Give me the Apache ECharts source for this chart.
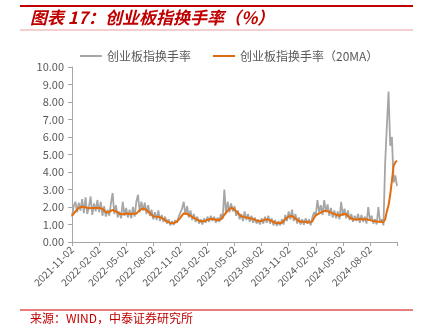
<!DOCTYPE html>
<html><head><meta charset="utf-8">
<script src="https://cdn.jsdelivr.net/npm/echarts@6/dist/echarts.min.js"></script>
<style>html,body{margin:0;padding:0;background:#fff}#c{width:424px;height:329px}</style>
</head><body><div id="c"></div>
<script>
var tickLabels = ["2021-11-02","2022-02-02","2022-05-02","2022-08-02","2022-11-02","2023-02-02","2023-05-02","2023-08-02","2023-11-02","2024-02-02","2024-05-02","2024-08-02"];
var seriesNames = ["创业板指换手率","创业板指换手率（20MA）"];
var turnover = [
1.45,2.05,2.3,1.7,2.25,1.8,2.45,1.65,2.55,1.6,2.0,2.6,1.55,2.2,1.75,2.4,
1.7,2.3,1.5,2.05,1.45,1.85,1.5,2.2,2.8,1.6,2.1,1.4,1.75,1.35,2.3,1.5,
1.95,1.4,1.85,1.35,2.0,1.45,2.3,2.7,1.7,2.3,1.8,2.25,1.6,2.1,1.5,1.85,
1.3,1.7,1.25,1.8,1.2,1.55,1.15,1.45,1.05,1.3,0.95,1.2,0.98,1.25,1.1,1.45,
1.5,1.9,2.3,1.55,2.05,1.4,1.8,1.25,1.6,1.15,1.45,1.05,1.3,1.0,1.35,1.1,
1.45,1.15,1.5,1.2,1.45,1.1,1.4,1.15,1.6,1.3,3.0,1.6,2.3,1.7,2.2,1.75,
2.05,1.5,1.8,1.3,1.6,1.2,1.75,1.25,1.6,1.15,1.5,1.1,1.4,1.05,1.3,1.0,
1.35,1.05,1.45,1.1,1.5,1.05,1.35,0.95,1.25,0.92,1.2,0.95,1.3,1.0,1.55,1.2,
1.75,1.3,1.85,1.2,1.6,1.05,1.4,1.0,1.3,0.98,1.35,1.05,1.3,0.95,1.4,1.7,
1.5,2.4,1.7,2.1,1.55,2.4,1.7,2.15,1.5,1.95,1.4,1.8,1.35,1.75,1.3,2.3,
1.5,1.9,1.35,1.8,1.25,1.6,1.15,1.5,1.2,1.6,1.1,1.55,1.15,1.45,1.05,2.0,
1.25,1.5,1.05,1.3,1.0,2.0,1.1,1.3,0.95,4.5,6.6,8.6,5.5,6.0,3.4,3.8,
3.2];
var turnoverMA20 = [
1.49,1.62,1.75,1.85,1.95,2.0,2.01,2.0,1.98,1.95,1.93,1.92,1.94,1.95,1.95,1.96,
1.95,1.94,1.9,1.8,1.7,1.65,1.72,1.8,1.83,1.8,1.75,1.7,1.62,1.55,1.58,1.62,
1.63,1.62,1.6,1.6,1.62,1.6,1.62,1.72,1.82,1.88,1.92,1.9,1.82,1.74,1.66,1.56,
1.46,1.44,1.45,1.46,1.42,1.36,1.32,1.26,1.18,1.12,1.09,1.07,1.07,1.1,1.16,1.24,
1.38,1.52,1.64,1.67,1.6,1.56,1.5,1.45,1.38,1.32,1.28,1.22,1.18,1.16,1.18,1.22,
1.26,1.3,1.33,1.33,1.3,1.28,1.24,1.22,1.3,1.42,1.55,1.68,1.8,1.9,1.96,1.93,
1.85,1.76,1.65,1.55,1.47,1.44,1.42,1.4,1.38,1.36,1.34,1.3,1.28,1.22,1.18,1.16,
1.2,1.25,1.28,1.3,1.28,1.23,1.2,1.15,1.1,1.07,1.07,1.08,1.1,1.18,1.3,1.4,
1.46,1.5,1.48,1.42,1.35,1.25,1.18,1.16,1.16,1.17,1.16,1.14,1.12,1.1,1.18,1.38,
1.52,1.58,1.64,1.7,1.74,1.77,1.79,1.76,1.72,1.68,1.64,1.6,1.56,1.52,1.5,1.55,
1.6,1.6,1.58,1.5,1.4,1.33,1.3,1.3,1.29,1.3,1.31,1.3,1.3,1.31,1.3,1.28,
1.25,1.22,1.2,1.19,1.17,1.16,1.16,1.15,1.14,1.3,1.75,2.1,2.7,3.5,4.35,4.55,
4.65];
var perQuarter = 16;
var categories = [];
for (var q = 0; q < tickLabels.length; q++) {
  for (var k = 0; k < perQuarter; k++) categories.push(k === 0 ? tickLabels[q] : tickLabels[q] + '+' + k);
}
categories.push('end');

var FONT = '"Noto Sans CJK SC", "Noto Sans", sans-serif';
var chart = echarts.init(document.getElementById('c'), null, {renderer: 'canvas'});
chart.setOption({
  animation: false,
  backgroundColor: '#fff',
  textStyle: {fontFamily: FONT},
  graphic: [
    {type: 'rect', shape: {x: 20, y: 5, width: 393, height: 2}, style: {fill: '#c00000'}},
    {type: 'rect', shape: {x: 20, y: 29.5, width: 393, height: 1}, style: {fill: '#e8a0a0'}},
    {type: 'rect', shape: {x: 20, y: 309.5, width: 393, height: 1}, style: {fill: '#d00000'}},
    {type: 'text', left: 30, top: 9, style: {text: '图表 17：创业板指换手率（%）', fill: '#c00000', font: 'italic bold 17px ' + FONT}},
    {type: 'text', left: 30, top: 312, style: {text: '来源：WIND，中泰证券研究所', fill: '#c00000', font: '12px ' + FONT}}
  ],
  legend: {
    top: 45, left: 75,
    itemWidth: 22, itemHeight: 2, itemGap: 22,
    icon: 'rect',
    textStyle: {color: '#595959', fontSize: 12, fontFamily: FONT},
    data: seriesNames
  },
  grid: {left: 72, right: 27, top: 67, bottom: 87, containLabel: false},
  xAxis: {
    type: 'category', boundaryGap: false, data: categories,
    axisLine: {lineStyle: {color: '#a6a6a6'}},
    axisTick: {show: true, interval: perQuarter - 1, length: 4, lineStyle: {color: '#a6a6a6'}},
    axisLabel: {
      interval: perQuarter - 1, rotate: 45, color: '#595959', fontSize: 10, fontFamily: FONT, margin: 6,
      formatter: function (v) { return tickLabels.indexOf(v) >= 0 ? v : ''; }
    },
    splitLine: {show: false}
  },
  yAxis: {
    type: 'value', min: 0, max: 10, interval: 1,
    axisLine: {show: true, lineStyle: {color: '#a6a6a6'}},
    axisTick: {show: true, length: 4, lineStyle: {color: '#a6a6a6'}},
    axisLabel: {color: '#595959', fontSize: 11, fontFamily: FONT, margin: 8, formatter: function (v) { return v.toFixed(2); }},
    splitLine: {show: false}
  },
  series: [
    {name: seriesNames[0], type: 'line', data: turnover, symbol: 'none', lineStyle: {color: '#a6a6a6', width: 1.8}, itemStyle: {color: '#a6a6a6'}, z: 2},
    {name: seriesNames[1], type: 'line', data: turnoverMA20, symbol: 'none', lineStyle: {color: '#e46c0a', width: 2}, itemStyle: {color: '#e46c0a'}, z: 3}
  ]
});
</script></body></html>
